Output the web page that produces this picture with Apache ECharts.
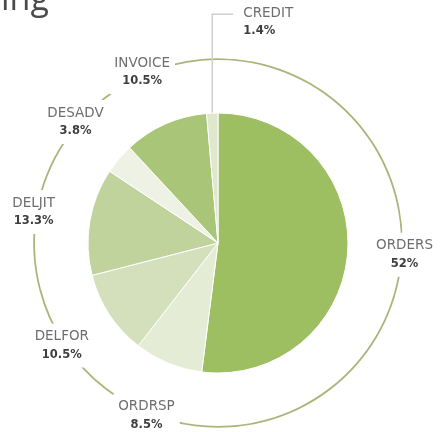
<!DOCTYPE html>
<html><head><meta charset="utf-8">
<script src="https://cdn.jsdelivr.net/npm/echarts@6/dist/echarts.min.js"></script>
<style>html,body{margin:0;padding:0;background:#fff}#c{width:440px;height:432px}</style>
</head><body><div id="c"></div>
<script>
const categories = ['ORDERS', 'ORDRSP', 'DELFOR', 'DELJIT', 'DESADV', 'INVOICE', 'CREDIT'];
const shares = [52, 8.5, 10.5, 13.3, 3.8, 10.5, 1.4];
const sliceColors = ['#9dbf62', '#e5ecd6', '#d3e0bb', '#c0d39c', '#edf2e4', '#a9c577', '#dfe8cc'];
const leaderCategory = 'CREDIT';

const chart = echarts.init(document.getElementById('c'), null, { renderer: 'canvas' });

const richStyle = {
  n: { fontFamily: 'DejaVu Sans', fontSize: 13.5, color: '#6e6e72', lineHeight: 18, align: 'center' },
  v: { fontFamily: 'DejaVu Sans', fontSize: 11.5, fontWeight: 'bold', color: '#3e3e40', lineHeight: 18, align: 'center' }
};

const pieData = categories.map((name, i) => ({
  name, value: shares[i],
  itemStyle: { color: sliceColors[i] },
  label: { show: name === leaderCategory },
  labelLine: { show: name === leaderCategory }
}));

const ringData = categories.map((name, i) => ({
  name, value: shares[i],
  label: { show: name !== leaderCategory }
}));

chart.setOption({
  animation: false,
  backgroundColor: '#ffffff',
  graphic: [{
    type: 'text', left: 1, top: -17,
    style: { text: 'ing', font: '34px "Open Sans"', fill: '#4a4a4a' }
  }],
  series: [
    {
      type: 'pie', center: [218, 243], radius: [183, 184.8],
      startAngle: 90, clockwise: true, silent: true,
      itemStyle: { color: '#aab57c', borderWidth: 0 },
      emphasis: { disabled: true },
      label: {
        position: 'inside', formatter: '{n|{b}}\n{v|{c}%}',
        backgroundColor: '#ffffff', padding: [4, 5], rich: richStyle
      },
      labelLine: { show: false },
      data: ringData, z: 1
    },
    {
      type: 'pie', center: [218, 243], radius: [0, 130],
      startAngle: 90, clockwise: true, silent: true,
      itemStyle: { borderColor: '#ffffff', borderWidth: 1 },
      emphasis: { disabled: true },
      label: {
        position: 'outside', formatter: '{n|{b}}\n{v|{c}%}',
        rich: {
          n: Object.assign({}, richStyle.n, { align: 'left' }),
          v: Object.assign({}, richStyle.v, { align: 'left' })
        }
      },
      labelLine: { length: 20, length2: 10, lineStyle: { color: '#cfcfcf', width: 1.5 } },
      labelLayout: function (p) {
        if (categories[p.dataIndex] !== leaderCategory || !p.labelLinePoints) return {};
        const s = p.labelLinePoints[0];
        return {
          x: s[0] + 31, y: s[1] - 91, align: 'left', verticalAlign: 'middle',
          labelLinePoints: [[s[0], s[1]], [s[0], s[1] - 99], [s[0] + 21, s[1] - 99]]
        };
      },
      data: pieData, z: 2
    }
  ]
});
</script></body></html>
